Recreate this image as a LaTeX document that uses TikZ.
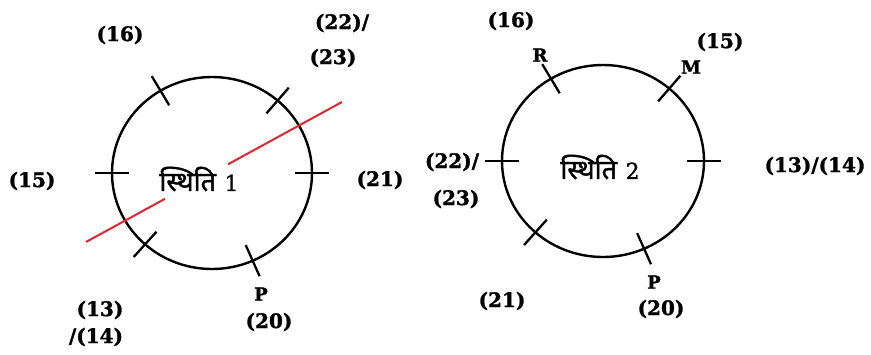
\documentclass[tikz,border=0pt]{standalone}
\usepackage{fontspec}
\setmainfont{DejaVu Serif}
\newfontfamily\lblfont{DejaVu Serif}[UprightFont={*/B}, FakeBold=1.5]
\newfontfamily\deva[Script=Devanagari,FakeBold=1.5]{Noto Sans}
\newfontfamily\numserif{DejaVu Serif}[FakeBold=1.2]
\definecolor{lred}{RGB}{222,40,48}
\begin{document}
\begin{tikzpicture}[x=1pt,y=-1pt,
  lbl/.style={font=\lblfont\fontsize{20}{21}\selectfont, inner sep=0pt},
  sml/.style={font=\lblfont\fontsize{18}{19}\selectfont, inner sep=0pt},
  ttl/.style={font=\fontsize{27}{29}\selectfont, inner sep=0pt},
  ring/.style={line width=2.4pt},
  tickmark/.style={line width=2.3pt},
  redline/.style={draw=lred, line width=2pt}]
\useasboundingbox (0,0) rectangle (871,354);
\fill[white] (0,0) rectangle (871,354);
% ---- Position 1 ----
\draw[ring] (212,173) ellipse [x radius=100, y radius=96];
\foreach \a in {121,49,0,180,228,294}
  \draw[tickmark] ({212+(100-17)*cos(\a)},{173-(96-17)*sin(\a)}) -- ({212+(100+17)*cos(\a)},{173-(96+17)*sin(\a)});
\coordinate (r1) at (86,242);
\coordinate (r1b) at (165,198.8);
\coordinate (r2b) at (228,164.3);
\coordinate (r2) at (342,102);
\draw[redline] (r1) -- (r1b);
\draw[redline] (r2b) -- (r2);
\node[ttl] (t1) at (199,179) {{\deva स्थिति} {\numserif\fontsize{22}{24}\selectfont 1}};
\node[lbl] (a16) at (120,35) {(16)};
\node[lbl] (a22) at (342,23) {(22)/};
\node[lbl] (a23) at (333,58) {(23)};
\node[lbl] (a15) at (32,181) {(15)};
\node[lbl] (a21) at (380,180) {(21)};
\node[lbl] (a13) at (100,310) {(13)};
\node[lbl] (a14) at (96,337) {/(14)};
\node[sml] (aP) at (261,294) {P};
\node[lbl] (a20) at (269,322) {(20)};
% ---- Position 2 ----
\draw[ring] (603,161) ellipse [x radius=101, y radius=96];
\foreach \a in {121,49,0,180,228,294}
  \draw[tickmark] ({603+(101-17)*cos(\a)},{161-(96-17)*sin(\a)}) -- ({603+(101+17)*cos(\a)},{161-(96+17)*sin(\a)});
\node[ttl] (t2) at (600,167) {{\deva स्थिति} {\numserif\fontsize{22}{24}\selectfont 2}};
\node[lbl] (b16) at (511,21) {(16)};
\node[sml] (bR) at (540,55) {R};
\node[lbl] (b15) at (720,42) {(15)};
\node[sml] (bM) at (691,67) {M};
\node[lbl] (b22) at (452,162) {(22)/};
\node[lbl] (b23) at (456,199) {(23)};
\node[lbl] (b13) at (815,166) {(13)/(14)};
\node[lbl] (b21) at (502,301) {(21)};
\node[sml] (bP) at (654,282) {P};
\node[lbl] (b20) at (661,309) {(20)};
\end{tikzpicture}
\end{document}
